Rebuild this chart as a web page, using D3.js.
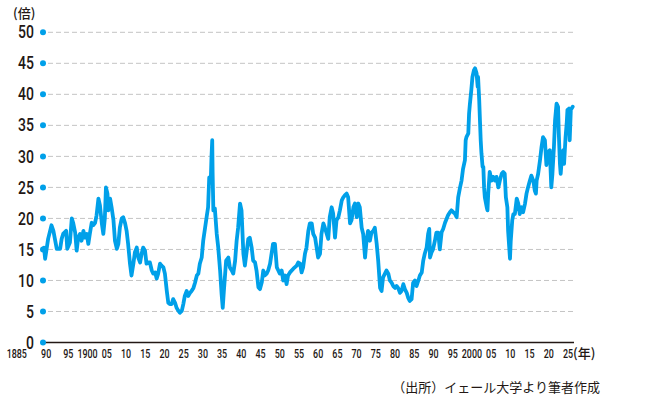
<!DOCTYPE html>
<html lang="ja">
<head>
<meta charset="UTF-8">
<script src="https://cdn.jsdelivr.net/npm/d3@7"></script>
<style>
  body { margin: 0; background: #fff; }
  .num { font-family: Roboto, "Liberation Sans", sans-serif; font-weight: 500; fill: #231815; }
  .jp { font-family: "Noto Sans CJK JP", sans-serif; fill: #231815; }
</style>
</head>
<body>
<div id="chart"></div>
<script>
// y ticks (倍)
const yTicks = [0, 5, 10, 15, 20, 25, 30, 35, 40, 45, 50];

// x tick labels
const xTickYears = [1885, 1890, 1895, 1900, 1905, 1910, 1915, 1920, 1925, 1930, 1935, 1940, 1945, 1950,
  1955, 1960, 1965, 1970, 1975, 1980, 1985, 1990, 1995, 2000, 2005, 2010, 2015, 2020, 2025];
const xTickLabels = ["1885", "90", "95", "1900", "05", "10", "15", "20", "25", "30", "35", "40", "45", "50",
  "55", "60", "65", "70", "75", "80", "85", "90", "95", "2000", "05", "10", "15", "20", "25"];

// CAPE (year, ratio)
const capeSeries = [
  [1885.0, 15.3], [1885.3, 13.5], [1886.1, 16.7], [1887.0, 18.9], [1887.5, 18.0], [1887.9, 16.7],
  [1888.4, 15.1], [1889.3, 15.1], [1889.7, 16.7], [1890.1, 17.5], [1890.9, 18.0], [1891.2, 15.1],
  [1891.9, 16.1], [1892.4, 20.0], [1892.8, 19.2], [1893.3, 17.7], [1893.7, 14.8], [1894.1, 16.9],
  [1894.6, 17.5], [1895.0, 16.4], [1895.5, 18.0], [1895.9, 16.9], [1896.4, 17.5], [1896.8, 15.9],
  [1897.2, 17.5], [1897.7, 19.3], [1898.1, 18.9], [1898.6, 19.3], [1899.0, 20.5], [1899.5, 23.2],
  [1899.9, 22.1], [1900.4, 19.2], [1900.8, 17.5], [1901.2, 20.0], [1901.5, 25.0], [1901.9, 24.0],
  [1902.1, 21.3], [1902.6, 23.2], [1903.0, 21.8], [1903.5, 19.7], [1903.9, 16.4], [1904.4, 15.1],
  [1904.8, 15.9], [1905.2, 18.5], [1905.7, 20.0], [1906.1, 20.2], [1906.6, 19.2], [1907.0, 18.0],
  [1907.4, 15.9], [1907.9, 12.7], [1908.3, 10.8], [1908.8, 12.7], [1909.2, 14.5], [1909.7, 15.3],
  [1910.1, 13.7], [1910.6, 12.9], [1911.0, 14.3], [1911.4, 15.3], [1911.9, 14.8], [1912.3, 12.7],
  [1912.8, 12.9], [1913.2, 12.9], [1913.7, 11.6], [1914.1, 11.1], [1914.6, 11.3], [1915.0, 10.3],
  [1915.4, 11.1], [1915.9, 12.7], [1916.3, 12.4], [1916.8, 12.1], [1917.2, 11.1], [1917.7, 8.3],
  [1918.1, 6.4], [1918.5, 6.2], [1919.0, 6.2], [1919.4, 7.0], [1919.9, 6.4], [1920.3, 5.6],
  [1920.8, 5.1], [1921.2, 4.8], [1921.7, 5.1], [1922.1, 6.2], [1922.5, 7.5], [1923.0, 8.3],
  [1923.4, 7.5], [1923.9, 8.0], [1924.3, 8.3], [1924.8, 8.8], [1925.2, 9.6], [1925.7, 10.8],
  [1926.1, 11.1], [1926.5, 12.7], [1927.0, 13.7], [1927.4, 16.4], [1927.9, 18.5], [1928.3, 20.2],
  [1928.7, 21.8], [1929.0, 26.6], [1929.4, 25.8], [1929.6, 29.8], [1929.8, 32.6], [1929.9, 27.5],
  [1930.1, 21.3], [1930.5, 21.6], [1931.0, 17.5], [1931.4, 15.3], [1931.9, 11.6], [1932.3, 7.8],
  [1932.6, 5.6], [1932.9, 8.3], [1933.5, 13.2], [1934.1, 13.7], [1934.5, 12.1], [1935.0, 11.6],
  [1935.4, 11.1], [1935.9, 13.2], [1936.3, 16.4], [1936.7, 18.5], [1937.2, 22.4], [1937.6, 21.3],
  [1938.1, 14.3], [1938.5, 12.4], [1939.0, 14.8], [1939.4, 16.7], [1939.8, 16.9], [1940.3, 15.3],
  [1940.7, 13.2], [1941.2, 12.9], [1941.6, 11.6], [1942.1, 8.9], [1942.5, 8.6], [1943.0, 9.7],
  [1943.4, 11.6], [1943.8, 10.8], [1944.3, 11.1], [1944.7, 11.6], [1945.2, 12.7], [1945.6, 14.3],
  [1946.0, 15.9], [1946.5, 15.9], [1947.0, 12.1], [1947.4, 11.6], [1947.8, 11.1], [1948.3, 11.6],
  [1948.7, 10.0], [1949.2, 10.8], [1949.6, 9.4], [1950.0, 10.8], [1950.5, 11.3], [1951.4, 11.9],
  [1952.3, 12.4], [1952.7, 12.9], [1953.2, 12.7], [1953.6, 11.3], [1954.0, 12.1], [1954.5, 14.3],
  [1954.9, 15.3], [1955.4, 18.0], [1955.8, 19.2], [1956.3, 19.2], [1956.7, 17.5], [1957.2, 16.9],
  [1957.6, 15.3], [1958.0, 13.7], [1958.5, 14.3], [1958.9, 17.5], [1959.4, 19.2], [1959.8, 18.5],
  [1960.3, 17.5], [1960.7, 16.7], [1961.1, 20.2], [1961.6, 21.8], [1962.0, 20.8], [1962.5, 16.9],
  [1962.9, 19.7], [1963.4, 20.2], [1963.8, 21.3], [1964.3, 22.9], [1964.7, 23.4], [1965.1, 23.7],
  [1965.6, 24.0], [1966.0, 23.4], [1966.5, 19.2], [1966.9, 19.7], [1967.4, 21.8], [1967.8, 22.4],
  [1968.3, 20.2], [1968.7, 22.4], [1969.1, 21.8], [1969.6, 18.5], [1970.0, 17.5], [1970.5, 13.7],
  [1970.9, 16.4], [1971.3, 18.0], [1971.8, 16.4], [1972.2, 17.7], [1972.7, 18.0], [1973.1, 18.5],
  [1973.6, 15.9], [1974.0, 13.2], [1974.5, 8.8], [1974.9, 8.3], [1975.3, 10.5], [1975.8, 11.1],
  [1976.2, 11.6], [1976.7, 11.1], [1977.1, 10.0], [1977.6, 9.6], [1978.0, 9.1], [1978.5, 8.8],
  [1978.9, 9.1], [1979.3, 8.8], [1979.8, 8.0], [1980.2, 8.3], [1980.7, 9.4], [1981.1, 8.6],
  [1981.6, 8.0], [1982.0, 7.2], [1982.4, 6.7], [1982.9, 7.0], [1983.3, 9.6], [1983.8, 10.0],
  [1984.2, 9.1], [1984.7, 10.0], [1985.1, 10.8], [1985.6, 11.3], [1986.0, 13.2], [1986.4, 14.3],
  [1986.9, 15.3], [1987.3, 17.5], [1987.6, 18.3], [1987.8, 13.7], [1988.2, 14.5], [1988.6, 15.0],
  [1989.1, 16.4], [1989.5, 17.7], [1990.0, 17.7], [1990.4, 15.0], [1990.9, 17.8], [1991.3, 18.3],
  [1991.8, 19.3], [1992.2, 19.9], [1992.6, 20.5], [1993.1, 21.0], [1993.5, 21.3], [1994.0, 21.0],
  [1994.4, 20.8], [1994.9, 20.2], [1995.3, 23.4], [1995.8, 25.0], [1996.2, 26.1], [1996.6, 28.0],
  [1997.1, 29.4], [1997.3, 32.6], [1997.5, 33.1], [1998.0, 33.7], [1998.2, 36.9], [1998.4, 38.3],
  [1998.8, 40.7], [1999.1, 42.8], [1999.5, 43.9], [1999.8, 44.2], [2000.2, 43.4], [2000.5, 41.2],
  [2000.6, 42.8], [2000.9, 39.1], [2001.1, 35.8], [2001.3, 32.6], [2001.5, 30.5], [2001.8, 28.3],
  [2002.0, 28.3], [2002.2, 25.0], [2002.4, 23.4], [2002.9, 21.8], [2003.1, 21.3], [2003.3, 24.0],
  [2003.7, 27.5], [2004.2, 26.1], [2004.6, 26.7], [2005.1, 26.1], [2005.5, 26.7], [2006.0, 25.0],
  [2006.4, 26.1], [2006.9, 27.2], [2007.3, 27.5], [2007.7, 27.2], [2008.0, 23.4], [2008.4, 21.8],
  [2008.6, 18.0], [2008.9, 15.3], [2009.1, 13.5], [2009.3, 16.4], [2009.7, 19.7], [2010.0, 20.7],
  [2010.4, 20.7], [2010.9, 23.2], [2011.3, 22.4], [2011.7, 20.7], [2012.2, 21.8], [2012.6, 21.0],
  [2013.1, 22.4], [2013.5, 24.0], [2013.9, 25.0], [2014.4, 26.1], [2014.8, 26.9], [2015.3, 26.1],
  [2015.7, 24.5], [2016.0, 24.0], [2016.2, 26.1], [2016.6, 27.2], [2017.1, 29.4], [2017.5, 31.5],
  [2017.9, 33.1], [2018.4, 32.6], [2018.8, 28.6], [2019.3, 30.7], [2019.7, 31.0], [2020.1, 25.0],
  [2020.4, 27.2], [2020.8, 31.5], [2021.1, 35.8], [2021.5, 38.5], [2021.9, 38.0], [2022.1, 33.7],
  [2022.4, 28.8], [2022.6, 27.2], [2023.0, 30.5], [2023.3, 31.0], [2023.5, 28.8], [2023.9, 33.1],
  [2024.2, 35.3], [2024.4, 37.5], [2024.8, 37.7], [2025.0, 32.6], [2025.3, 37.5], [2025.8, 38.0]
];

const width = 661, height = 415;
const blue = "#00a0e9";

const svg = d3.select("#chart").append("svg")
  .attr("width", width)
  .attr("height", height);

// scales
const x = d3.scaleLinear().domain([1885, 2025.8]).range([44, 572.7]);
const y = d3.scaleLinear().domain([0, 50]).range([342.5, 32.3]);
// tick labels are spread a little wider than the data
const xLab = d3.scaleLinear().domain([1910, 2025]).range([126, 568]);

// dashed grid
svg.append("g")
  .selectAll("line")
  .data(yTicks.filter(d => d > 0))
  .join("line")
  .attr("x1", 48).attr("x2", 575)
  .attr("y1", d => y(d)).attr("y2", d => y(d))
  .attr("stroke", "#c4c4c4")
  .attr("stroke-width", 1)
  .attr("stroke-dasharray", "5,3");

// baseline
svg.append("line")
  .attr("x1", 43).attr("x2", 574)
  .attr("y1", y(0)).attr("y2", y(0))
  .attr("stroke", "#231815")
  .attr("stroke-width", 1.5);

// y labels (condensed digits) and dots
svg.append("g")
  .selectAll("text")
  .data(yTicks)
  .join("text")
  .attr("class", "num")
  .attr("transform", d => `translate(34,${y(d)}) scale(0.8,1)`)
  .attr("dy", "0.35em")
  .attr("text-anchor", "end")
  .style("font-size", "17.5px")
  .text(d => d);

svg.append("g")
  .selectAll("circle")
  .data(yTicks)
  .join("circle")
  .attr("cx", 43)
  .attr("cy", d => y(d))
  .attr("r", 3)
  .attr("fill", blue);

// unit
svg.append("text")
  .attr("class", "jp")
  .attr("x", 13).attr("y", 18)
  .style("font-size", "13px")
  .style("font-weight", 500)
  .text("(倍)");

// x labels
svg.append("g")
  .selectAll("text")
  .data(xTickYears)
  .join("text")
  .attr("class", "num")
  .attr("transform", (d, i) => `translate(${xLab(d) + (i === 0 ? -3 : i === 1 ? -3 : 0)},358) scale(0.66,1)`)
  .attr("text-anchor", (d, i) => i === 0 ? "end" : "middle")
  .style("font-size", "13.5px")
  .text((d, i) => xTickLabels[i]);

svg.append("text")
  .attr("class", "jp")
  .attr("x", xLab(2025) + 5).attr("y", 358)
  .style("font-size", "13px")
  .style("font-weight", 500)
  .text("(年)");

// the line
const line = d3.line()
  .x(d => x(d[0]))
  .y(d => y(d[1]));

svg.append("path")
  .datum(capeSeries)
  .attr("fill", "none")
  .attr("stroke", blue)
  .attr("stroke-width", 3.8)
  .attr("stroke-linejoin", "round")
  .attr("stroke-linecap", "round")
  .attr("d", line);

// source
svg.append("text")
  .attr("class", "jp")
  .attr("x", 600).attr("y", 392)
  .attr("text-anchor", "end")
  .style("font-size", "13px")
  .text("（出所）イェール大学より筆者作成");
</script>
</body>
</html>
